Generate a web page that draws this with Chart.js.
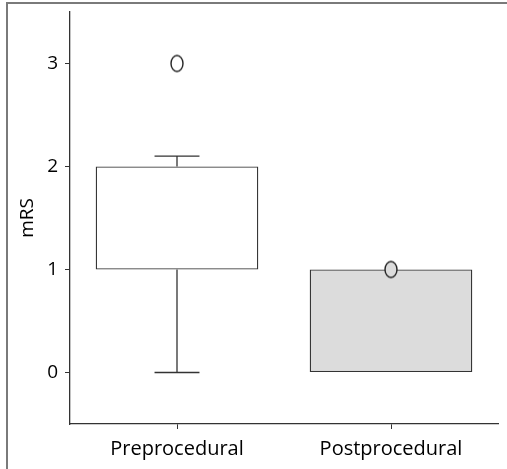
<!DOCTYPE html>
<html>
<head>
<meta charset="utf-8">
<script src="https://cdn.jsdelivr.net/npm/chart.js@4.4.1/dist/chart.umd.min.js"></script>
<style>
  html, body { margin: 0; padding: 0; background: #fff; }
  #wrap { position: relative; width: 507px; height: 469px; }
  #frame {
    position: absolute; left: 6px; top: 2px; right: 0; bottom: 0;
    border-top: 2px solid #7a7a7a; border-left: 2px solid #7a7a7a;
    pointer-events: none;
  }
</style>
</head>
<body>
<div id="wrap">
  <canvas id="myChart" width="507" height="469"></canvas>
  <div id="frame"></div>
</div>
<script>
// box plot values
var groups = ['Preprocedural', 'Postprocedural'];
var q1 = [1, 0];
var q3 = [2, 1];
var whiskerLow = [0, 0];
var whiskerHigh = [2.1, 1];
var outliers = [
    { x: 'Preprocedural', y: 3 },
    { x: 'Postprocedural', y: 1 }
];
var yTicks = [0, 1, 2, 3];

var boxFill = ['#ffffff', '#dcdcdc'];
var lineColor = '#333333';
var fontFamily = '"Open Sans", "Noto Sans", sans-serif';

// tall ellipse marker like the original
function ellipseMarker(fill) {
    var c = document.createElement('canvas');
    c.width = 16; c.height = 20;
    var g = c.getContext('2d');
    g.beginPath();
    g.ellipse(8, 10, 6, 8, 0, 0, Math.PI * 2);
    g.fillStyle = fill;
    g.fill();
    g.lineWidth = 1.4;
    g.strokeStyle = '#222';
    g.stroke();
    return c;
}

var whiskerPlugin = {
    id: 'whiskers',
    beforeDatasetsDraw: function(chart) {
        var ctx = chart.ctx;
        var xs = chart.scales.x, ys = chart.scales.y;
        var step = xs.getPixelForValue(1) - xs.getPixelForValue(0);
        var half = step * 0.105;
        ctx.save();
        ctx.strokeStyle = lineColor;
        ctx.lineWidth = 1.3;
        groups.forEach(function(g, i) {
            var cx = xs.getPixelForValue(i);
            var lo = ys.getPixelForValue(whiskerLow[i]);
            var hi = ys.getPixelForValue(whiskerHigh[i]);
            var b = ys.getPixelForValue(q1[i]);
            var t = ys.getPixelForValue(q3[i]);
            ctx.beginPath();
            if (whiskerLow[i] < q1[i]) {
                ctx.moveTo(cx, b); ctx.lineTo(cx, lo);
                ctx.moveTo(cx - half, lo); ctx.lineTo(cx + half, lo);
            }
            if (whiskerHigh[i] > q3[i]) {
                ctx.moveTo(cx, t); ctx.lineTo(cx, hi);
                ctx.moveTo(cx - half, hi); ctx.lineTo(cx + half, hi);
            }
            ctx.stroke();
        });
        ctx.restore();
    }
};

var config = {
    type: 'bar',
    data: {
        labels: groups,
        datasets: [{
            type: 'line',
            label: 'Outliers',
            data: outliers,
            showLine: false,
            pointStyle: [ellipseMarker('#ffffff'), ellipseMarker('#dcdcdc')],
            order: 0
        }, {
            label: 'IQR',
            data: groups.map(function(g, i) { return [q1[i], q3[i]]; }),
            backgroundColor: boxFill,
            borderColor: lineColor,
            borderWidth: 1.3,
            borderSkipped: false,
            categoryPercentage: 1,
            barPercentage: 0.76,
            order: 1
        }]
    },
    options: {
        responsive: false,
        animation: false,
        layout: {
            padding: { top: 12, right: 9, left: 16, bottom: 0 }
        },
        plugins: {
            legend: { display: false },
            tooltip: { enabled: false }
        },
        scales: {
            x: {
                offset: true,
                grid: {
                    offset: false,
                    drawOnChartArea: false,
                    tickLength: 5,
                    tickColor: lineColor
                },
                border: { display: true, color: lineColor, width: 1.3 },
                ticks: {
                    color: '#000',
                    padding: 8,
                    font: { family: fontFamily, size: 20 }
                },
                afterFit: function(s) {
                    s.height = 45;
                    s.paddingLeft = 0;
                    s.paddingRight = 0;
                }
            },
            y: {
                min: -0.5,
                max: 3.5,
                afterBuildTicks: function(s) {
                    s.ticks = yTicks.map(function(v) { return { value: v }; });
                },
                grid: {
                    drawOnChartArea: false,
                    tickLength: 5,
                    tickColor: lineColor
                },
                border: { display: true, color: lineColor, width: 1.3 },
                ticks: {
                    color: '#000',
                    padding: 7,
                    font: { family: fontFamily, size: 19 }
                },
                title: {
                    display: true,
                    text: 'mRS',
                    color: '#000',
                    padding: { top: 0, bottom: 0 },
                    font: { family: fontFamily, size: 19 }
                },
                afterFit: function(s) {
                    s.width = 54;
                    s.paddingTop = 0;
                    s.paddingBottom = 0;
                }
            }
        }
    },
    plugins: [whiskerPlugin]
};

window.onload = function() {
    var ctx = document.getElementById('myChart').getContext('2d');
    window.myBox = new Chart(ctx, config);
};
</script>
</body>
</html>
